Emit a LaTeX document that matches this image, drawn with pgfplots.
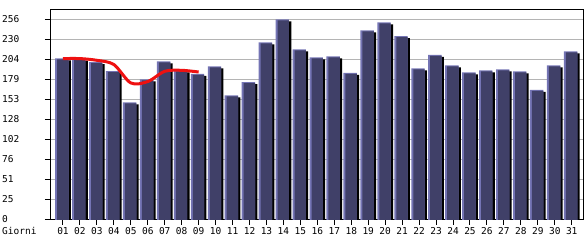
\documentclass[border=0pt]{standalone}
\usepackage{fontspec}
\setmainfont{DejaVu Sans Mono}
\usepackage{pgfplots}
\usepackage{pgfplotstable}
\pgfplotsset{compat=1.18}
\definecolor{bardark}{HTML}{404068}
\definecolor{barlight}{HTML}{7474B4}
\definecolor{gridgray}{HTML}{B4B4B4}
\definecolor{linered}{HTML}{EE1111}
\pgfplotstableread{
x v
1 207
2 206.5
3 202
4 190.7
5 150.6
6 180
7 203
8 191.6
9 187
10 196.7
11 159.6
12 176.6
13 227.4
14 256.8
15 218.5
16 208.2
17 209.5
18 188.2
19 242.8
20 253
21 235.5
22 194.1
23 211.2
24 198
25 189
26 191.6
27 192.9
28 190.3
29 166.4
30 198
31 215.9
}\bars
\pgfplotstableread{
x v
1 206.6
2 206.6
3 204.4
4 199
5 175.4
6 177.2
7 190.3
8 191.6
9 189.4
}\avg
\begin{document}
\begin{tikzpicture}
\begin{axis}[
  scale only axis,
  width=533pt, height=210pt,
  xmin=0.235, xmax=31.665,
  ymin=0, ymax=268.8,
  ybar,
  bar width=13.4pt,
  xtick={1,...,31},
  xticklabels={01,02,03,04,05,06,07,08,09,10,11,12,13,14,15,16,17,18,19,20,21,22,23,24,25,26,27,28,29,30,31},
  ytick={0,25.6,51.2,76.8,102.4,128,153.6,179.2,204.8,230.4,256},
  yticklabels={0,25,51,76,102,128,153,179,204,230,256},
  tick pos=left,
  tick align=outside,
  major tick length=5pt,
  tick style={black, line width=1pt},
  axis line style={black, line width=1pt},
  ymajorgrids,
  grid style={gridgray, line width=1pt},
  tick label style={font=\fontsize{9.5}{10}\selectfont, inner sep=0pt},
  yticklabel style={anchor=west, xshift=-43pt, yshift=1pt},
  xticklabel style={anchor=base, yshift=-10pt},
]
\addplot[fill=black, draw=none, bar shift=1.15pt, yshift=-2pt] table[x=x,y=v]{\bars};
\addplot[fill=barlight, draw=none, bar shift=-1.15pt] table[x=x,y=v]{\bars};
\addplot[fill=bardark, draw=none, bar shift=-0.15pt, bar width=11.4pt, yshift=-1pt] table[x=x,y=v]{\bars};
\addplot[linered, line width=3pt, smooth, tension=0.5, mark=none] table[x=x,y=v]{\avg};
\end{axis}
\node[anchor=base west, inner sep=0pt, font=\fontsize{9.5}{10}\selectfont] at (-48pt,-15pt) {Giorni};
\pgfresetboundingbox
\path (-50pt,-20pt) rectangle (535pt,220pt);
\end{tikzpicture}
\end{document}
